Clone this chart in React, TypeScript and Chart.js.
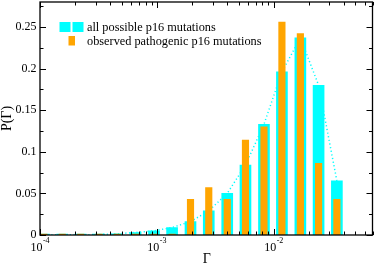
import React, { useEffect, useRef } from 'react';
import { Chart, registerables } from 'chart.js';

Chart.register(...registerables);

// Γ bin centres (log-spaced histogram bins)
const gammaBins = [
  1.08e-4, 1.55e-4, 2.23e-4, 3.2e-4, 4.58e-4, 6.57e-4, 9.45e-4, 1.35e-3,
  1.94e-3, 2.78e-3, 4.0e-3, 5.73e-3, 8.25e-3, 1.175e-2, 1.69e-2, 2.42e-2, 3.47e-2,
];
// P(Γ) for all possible p16 mutations (cyan)
const allPossible = [
  0.0002, 0.0002, 0.0003, 0.0006, 0.0015, 0.003, 0.005, 0.009,
  0.016, 0.029, 0.05, 0.084, 0.133, 0.196, 0.237, 0.18, 0.065,
];
// P(Γ) for observed pathogenic p16 mutations (orange)
const observed = [
  0, 0, 0, 0, 0, 0, 0, 0,
  0.043, 0.057, 0.043, 0.114, 0.13, 0.256, 0.242, 0.086, 0.043,
];

const seriesLabels = ['all possible p16 mutations', 'observed pathogenic p16 mutations'];
const xTickExponents = [-4, -3, -2];
const yTicks = [0, 0.05, 0.1, 0.15, 0.2, 0.25];
const yTickLabels = ['0', '0.05', '0.1', '0.15', '0.2', '0.25'];
const yMinorTicks = [0.025, 0.075, 0.125, 0.175, 0.225, 0.275];
const xTitle = 'Γ';
const yTitle = 'P(Γ)';

const X_MIN = 1e-4;
const X_MAX = 0.07;
const Y_MAX = 0.28;

const CYAN = '#00FFFF';
const ORANGE = '#FFA500';
const FONT = '"Liberation Serif", "DejaVu Serif", "Times New Roman", serif';

const xmgracePlugin = {
  id: 'xmgraceFrame',
  afterDatasetsDraw(chart: any) {
    const { ctx, chartArea: a, scales } = chart;
    const xs = scales.x;
    const ys = scales.y;
    ctx.save();
    ctx.strokeStyle = '#000';
    ctx.lineWidth = 1;
    ctx.beginPath();
    // x ticks (bottom and top)
    for (let e = -4; e <= -2; e++) {
      for (let k = 1; k <= 9; k++) {
        const v = k * Math.pow(10, e);
        if (v < X_MIN - 1e-12 || v > X_MAX) continue;
        const p = Math.round(xs.getPixelForValue(v)) + 0.5;
        const len = k === 1 ? 6 : 3.5;
        ctx.moveTo(p, a.bottom);
        ctx.lineTo(p, a.bottom - len);
        ctx.moveTo(p, a.top);
        ctx.lineTo(p, a.top + len);
      }
    }
    // y ticks (left and right)
    const yT = (v: number, len: number) => {
      const p = Math.round(ys.getPixelForValue(v)) + 0.5;
      ctx.moveTo(a.left, p);
      ctx.lineTo(a.left + len, p);
      ctx.moveTo(a.right, p);
      ctx.lineTo(a.right - len, p);
    };
    yTicks.forEach((v) => yT(v, 6));
    yMinorTicks.forEach((v) => yT(v, 3.5));
    ctx.stroke();

    // frame
    ctx.lineWidth = 1.3;
    ctx.strokeRect(a.left, a.top, a.right - a.left, a.bottom - a.top);

    // y tick labels
    ctx.fillStyle = '#000';
    ctx.font = `12px ${FONT}`;
    ctx.textAlign = 'right';
    ctx.textBaseline = 'middle';
    yTicks.forEach((v, i) => {
      ctx.fillText(yTickLabels[i], 36.5, ys.getPixelForValue(v));
    });

    // x tick labels 10^e
    ctx.textBaseline = 'alphabetic';
    ctx.textAlign = 'left';
    xTickExponents.forEach((e) => {
      const p = xs.getPixelForValue(Math.pow(10, e));
      ctx.font = `12px ${FONT}`;
      const w1 = ctx.measureText('10').width;
      ctx.font = `8px ${FONT}`;
      const sup = '-' + String(-e);
      const w2 = ctx.measureText(sup).width;
      const start = p - (w1 + w2 + 0.5) / 2;
      ctx.font = `12px ${FONT}`;
      ctx.fillText('10', start, 250.5);
      ctx.font = `8px ${FONT}`;
      ctx.fillText(sup, start + w1 + 0.5, 243);
    });

    // axis titles
    ctx.font = `14px ${FONT}`;
    ctx.textAlign = 'center';
    ctx.fillText(xTitle, (a.left + a.right) / 2 + 0.5, 263);
    ctx.save();
    ctx.translate(11, (a.top + a.bottom) / 2);
    ctx.rotate(-Math.PI / 2);
    ctx.fillText(yTitle, 0, 0);
    ctx.restore();

    // legend
    ctx.fillStyle = CYAN;
    ctx.fillRect(59.5, 22, 11, 10);
    ctx.fillRect(72.5, 22, 11, 10);
    ctx.fillStyle = ORANGE;
    ctx.fillRect(68.5, 36, 6.5, 9.5);
    ctx.fillStyle = '#000';
    ctx.font = `12.3px ${FONT}`;
    ctx.textAlign = 'left';
    ctx.fillText(seriesLabels[0], 87, 30.5);
    ctx.fillText(seriesLabels[1], 87, 44.5);
    ctx.restore();
  },
};

export default function App() {
  const canvasRef = useRef<HTMLCanvasElement | null>(null);

  useEffect(() => {
    const canvas = canvasRef.current;
    if (!canvas) return;
    const pts = (ys: number[]) => gammaBins.map((g, i) => ({ x: g, y: ys[i] }));
    const chart = new Chart(canvas, {
      type: 'bar',
      data: {
        datasets: [
          {
            type: 'bar',
            label: seriesLabels[1],
            data: pts(observed),
            backgroundColor: ORANGE,
            borderWidth: 0,
            barThickness: 6.5,
            grouped: false,
            minBarLength: 1,
            order: 1,
          } as any,
          {
            type: 'bar',
            label: seriesLabels[0],
            data: pts(allPossible),
            backgroundColor: CYAN,
            borderWidth: 0,
            barThickness: 11,
            grouped: false,
            minBarLength: 1,
            order: 2,
          } as any,
          {
            type: 'line',
            label: 'trend',
            data: pts(allPossible),
            borderColor: CYAN,
            borderWidth: 1.5,
            borderDash: [1.2, 2.5],
            pointRadius: 0,
            tension: 0,
            fill: false,
            order: 3,
          } as any,
        ],
      },
      options: {
        responsive: false,
        animation: false,
        layout: { padding: { left: 40, top: 2, right: 1.5, bottom: 30 } },
        scales: {
          x: { type: 'logarithmic', display: false, min: X_MIN, max: X_MAX, offset: false },
          y: { type: 'linear', display: false, min: 0, max: Y_MAX },
        },
        plugins: { legend: { display: false }, tooltip: { enabled: false } },
      },
      plugins: [xmgracePlugin],
    } as any);
    return () => chart.destroy();
  }, []);

  return (
    <div style={{ position: 'absolute', left: 0, top: 0, width: 374, height: 265, background: '#fff' }}>
      <canvas ref={canvasRef} width={374} height={265} style={{ display: 'block', width: 374, height: 265 }} />
    </div>
  );
}
